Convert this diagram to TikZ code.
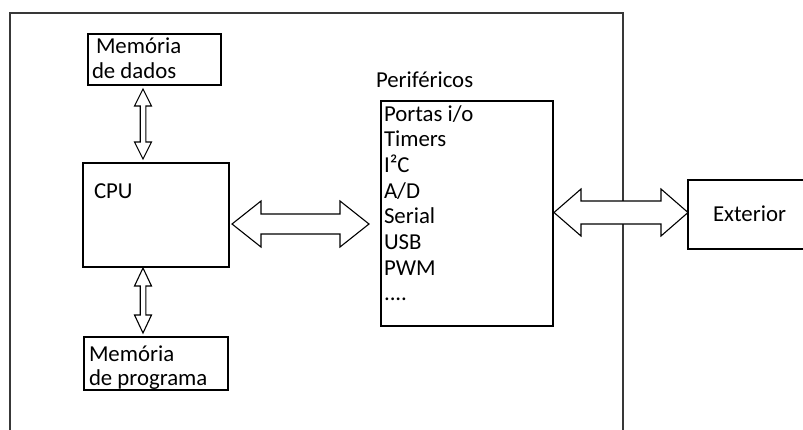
\documentclass[tikz,border=0pt]{standalone}
\usepackage{fontspec}
\setmainfont{Carlito}
\usetikzlibrary{calc}

\tikzset{
  box/.style={draw=black, line width=0.95pt, inner sep=0pt, outer sep=0pt, anchor=north west},
  lbl/.style={inner sep=0pt, outer sep=0pt, anchor=base west, font=\fontsize{11.4}{13}\selectfont},
  bus/.style={draw=black, fill=white, line width=0.55pt, line join=miter},
  frame/.style={draw=black!78, line width=1.1pt}
}

% vertical double block arrow between two tips: shaft half-width, head half-width, head length
\newcommand\vbus[5]{%
  \draw[bus] let \p1=(#1), \p2=(#2) in
    (\x1,\y1) -- (\x1+#4,\y1-#5) -- (\x1+#3,\y1-#5) -- (\x1+#3,\y2+#5) -- (\x1+#4,\y2+#5)
    -- (\x1,\y2) -- (\x1-#4,\y2+#5) -- (\x1-#3,\y2+#5) -- (\x1-#3,\y1-#5) -- (\x1-#4,\y1-#5) -- cycle;}
% horizontal double block arrow between two tips
\newcommand\hbus[5]{%
  \draw[bus] let \p1=(#1), \p2=(#2) in
    (\x1,\y1) -- (\x1+#5,\y1+#4) -- (\x1+#5,\y1+#3) -- (\x2-#5,\y1+#3) -- (\x2-#5,\y1+#4)
    -- (\x2,\y1) -- (\x2-#5,\y1-#4) -- (\x2-#5,\y1-#3) -- (\x1+#5,\y1-#3) -- (\x1+#5,\y1-#4) -- cycle;}

\begin{document}
\begin{tikzpicture}[x=0.5pt, y=-0.5pt]
\useasboundingbox (0,0) rectangle (803,429);

% microcontroller boundary (open at the bottom and cut by the right edge)
\draw[frame] (10,440) -- (10,13) -- (623,13) -- (623,440);

% blocks
\node[box, minimum width=66.5pt, minimum height=25.5pt] (memd) at (88,34) {};
\node[box, minimum width=73pt,   minimum height=52pt]   (cpu)  at (83,163) {};
\node[box, minimum width=72pt,   minimum height=26.5pt] (memp) at (84,337) {};
\node[box, minimum width=86pt,   minimum height=112.5pt] (per) at (381,101) {};
\node[box, minimum width=70pt,   minimum height=34.5pt] (ext)  at (688,180) {};

% texts
\node[lbl] (memd1) at (96,53) {Memória};
\node[lbl] (memd2) at (92,78) {de dados};
\node[lbl] (cput)  at (94,198) {CPU};
\node[lbl] (memp1) at (89,361) {Memória};
\node[lbl] (memp2) at (89,385) {de programa};
\node[lbl] (pert)  at (376,87) {Periféricos};
\foreach \t [count=\i] in {Portas i/o, Timers, I²C, A/D, Serial, USB, PWM}
  \node[lbl] (item\i) at (384,{121+25.7*(\i-1)}) {\t};
\node[lbl] (item8) at (384,{121+25.7*7}) {....};
\node[lbl] (extt) at (713,221) {Exterior};

% bus tips
\path (memd.south) ++(-11.5,4)  coordinate (a1);
\path (cpu.north)  ++(-13,-4)   coordinate (a2);
\path (cpu.south)  ++(-13,1)    coordinate (b1);
\path (memp.north) ++(-13,-4)   coordinate (b2);
\path (cpu.east)   ++(3,9)      coordinate (c1);
\path (per.west)   ++(-12,10.5) coordinate (c2);
\path (per.east)   ++(1,-1)     coordinate (d1);
\path (ext.west)   ++(0,-2)     coordinate (d2);

% buses
\vbus{a1}{a2}{1.4pt}{4.25pt}{8.5pt}
\vbus{b1}{b2}{1.4pt}{4.25pt}{9pt}
\hbus{c1}{c2}{5pt}{11.5pt}{14.5pt}
\hbus{d1}{d2}{5.75pt}{11.75pt}{13.5pt}
\end{tikzpicture}
\end{document}
